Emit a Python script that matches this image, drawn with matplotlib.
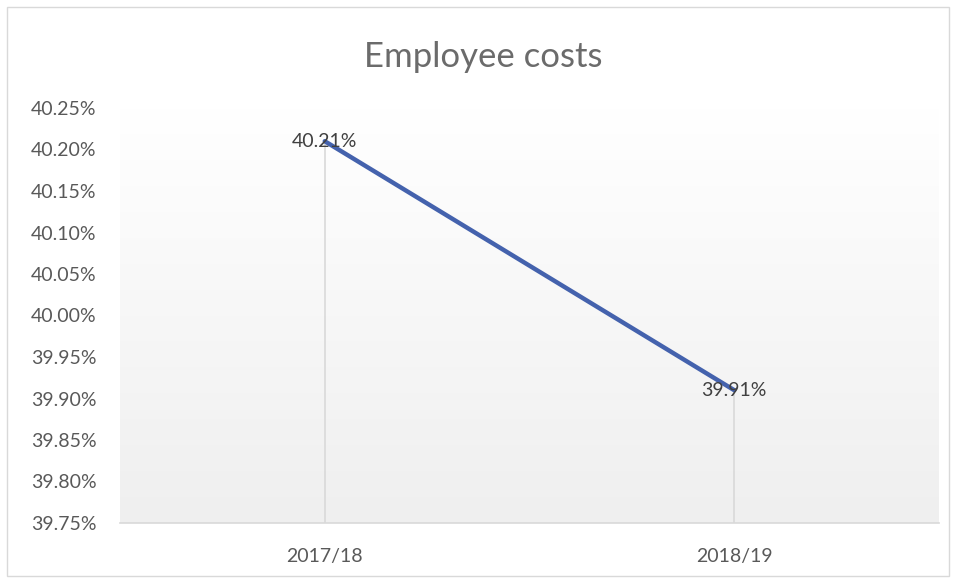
import numpy as np
import matplotlib.pyplot as plt
from matplotlib.patches import Rectangle
from matplotlib.ticker import FuncFormatter
from matplotlib.colors import LinearSegmentedColormap

plt.rcParams['font.family'] = ['Lato', 'DejaVu Sans']

# chart data
years = ['2017/18', '2018/19']
cost_share = [40.21, 39.91]  # employee costs, % of total
y_ticks = [39.75, 39.80, 39.85, 39.90, 39.95, 40.00, 40.05, 40.10, 40.15, 40.20, 40.25]

W, H = 956, 583
fig = plt.figure(figsize=(W / 100, H / 100), dpi=100)
fig.patch.set_facecolor('white')

# outer chart frame
fig.add_artist(Rectangle((7 / W, 7 / H), 942 / W, 569 / H, transform=fig.transFigure,
                         fill=False, edgecolor='#d9d9d9', linewidth=1))

left, right, top, bottom = 120, 939, 108, 523
ax = fig.add_axes([left / W, 1 - bottom / H, (right - left) / W, (bottom - top) / H])

x = np.arange(len(years))
ax.set_xlim(-0.5, len(years) - 0.5)
ax.set_ylim(y_ticks[0], y_ticks[-1])

# vertical shading, light grey at bottom fading to white at top
grad = np.linspace(0.0, 1.0, 256).reshape(-1, 1)
bg_cmap = LinearSegmentedColormap.from_list('bg', ['#efefef', '#ffffff'])
ax.imshow(grad, extent=[-0.5, len(years) - 0.5, y_ticks[0], y_ticks[-1]], aspect='auto',
          cmap=bg_cmap, origin='lower', zorder=0)

# drop lines from each point to the axis
ax.vlines(x, y_ticks[0], cost_share, color='#d9d9d9', linewidth=1.2, zorder=1)

ax.plot(x, cost_share, color='#4462ad', linewidth=3.2, solid_capstyle='round', zorder=3)

for xi, v in zip(x, cost_share):
    ax.text(xi, v, f'{v:.2f}%', ha='center', va='center', fontsize=14,
            color='#404040', zorder=4)

ax.set_xticks(x)
ax.set_xticklabels(years)
ax.set_yticks(y_ticks)
ax.yaxis.set_major_formatter(FuncFormatter(lambda v, p: f'{v:.2f}%'))
ax.tick_params(axis='both', length=0, labelsize=14, colors='#595959')
ax.tick_params(axis='x', pad=18)
ax.tick_params(axis='y', pad=17)

for s in ['top', 'right', 'left']:
    ax.spines[s].set_visible(False)
ax.spines['bottom'].set_color('#d9d9d9')
ax.spines['bottom'].set_linewidth(1.2)

fig.text(0.505, 1 - 57 / H, 'Employee costs', ha='center', va='center',
         fontsize=25, fontweight='normal', color='#6b6b6b')

fig.savefig('out.png', dpi=100)
